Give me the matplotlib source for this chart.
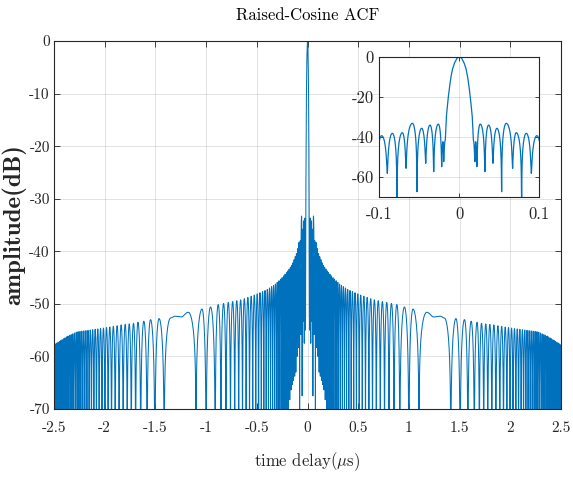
import numpy as np
import matplotlib.pyplot as plt

plt.rcParams['font.family'] = 'cmr10'
plt.rcParams['mathtext.fontset'] = 'cm'
plt.rcParams['axes.unicode_minus'] = False

# valores (retardo en us, nivel en dB), solo lado positivo: la ACF es simetrica
mainlobe_tau = [0.0, 0.003, 0.0062, 0.0085, 0.0104, 0.012, 0.0137, 0.015, 0.0162, 0.0175]
mainlobe_db = [0.0, -0.8, -3.3, -6.2, -10.0, -14.4, -20.0, -25.0, -30.0, -41.7]

# lobulos cercanos (inset): picos y nulos alternados
near_tau = [0.0175, 0.0195, 0.0205, 0.0220, 0.0262, 0.0320, 0.0366, 0.0420, 0.0470,
            0.0529, 0.0587, 0.0666, 0.0712, 0.0779, 0.0837, 0.0900, 0.0970, 0.1035]
near_db = [-41.7, -52.5, -42.5, -55.0, -33.7, -57.5, -34.2, -53.3, -35.8,
           -67.5, -33.3, -55.8, -38.0, -90.0, -38.3, -58.3, -39.5, -60.0]

# lobulos que se distinguen alrededor del lobulo ancho
mid_tau = [0.91, 0.956, 1.00, 1.04, 1.10, 1.176, 1.245, 1.31, 1.35, 1.413,
           1.464, 1.505, 1.548, 1.582, 1.614, 1.645, 1.672, 1.695, 1.716, 1.738,
           1.758, 1.778, 1.798, 1.818, 1.838, 1.858]
mid_db = [-90, -50.6, -90, -51.0, -90, -51.6, -52.5, -52.35, -52.7, -90,
          -52.8, -90, -53.0, -90, -53.3, -90, -53.5, -90, -53.7, -90,
          -53.8, -90, -53.9, -90, -54.0, -90]

# separacion entre nulos donde los lobulos estan muy juntos
spacing_tau = [0.10, 0.20, 0.30, 0.40, 0.50, 0.60, 0.70, 0.80, 0.91, 1.86, 2.0, 2.2, 2.4, 2.6]
spacing_val = [0.011, 0.013, 0.017, 0.022, 0.028, 0.034, 0.039, 0.045, 0.06, 0.040, 0.030, 0.020, 0.014, 0.011]

# envolvente de los picos
env_tau = [0.10, 0.15, 0.20, 0.25, 0.32, 0.40, 0.52, 0.65, 0.82, 0.92,
           1.86, 2.04, 2.27, 2.37, 2.45, 2.50, 2.60]
env_db = [-40.0, -42.5, -43.9, -45.0, -46.3, -47.3, -48.3, -49.2, -49.9, -50.3,
          -54.1, -54.7, -55.3, -56.2, -57.2, -57.8, -59.0]

# profundidad de los nulos cerca del centro
depth_tau = [0.10, 0.16, 0.22, 0.30]
depth_db = [-62, -66, -75, -95]

xticks = [-2.5, -2, -1.5, -1, -0.5, 0, 0.5, 1, 1.5, 2, 2.5]
xtick_labels = ['-2.5', '-2', '-1.5', '-1', '-0.5', '0', '0.5', '1', '1.5', '2', '2.5']
yticks = [-70, -60, -50, -40, -30, -20, -10, 0]
ytick_labels = ['-70', '-60', '-50', '-40', '-30', '-20', '-10', '0']
in_xticks = [-0.1, 0, 0.1]
in_xtick_labels = ['-0.1', '0', '0.1']
in_yticks = [-60, -40, -20, 0]
in_ytick_labels = ['-60', '-40', '-20', '0']


def nulos_entre(a, b):
    t = np.linspace(a, b, 4000)
    cnt = np.concatenate([[0], np.cumsum(np.diff(t) / np.interp(t[:-1], spacing_tau, spacing_val))])
    n = max(1, int(round(cnt[-1])))
    c = np.linspace(0, cnt[-1], 2 * n + 1)
    pts = np.interp(c, cnt, t)
    return pts[1:-1]  # pico, nulo, pico, ..., pico (sin los extremos)


def extremos(a, b):
    pts = nulos_entre(a, b)
    vals = []
    for i, p in enumerate(pts):
        if i % 2 == 0:
            vals.append(np.interp(p, env_tau, env_db))
        else:
            vals.append(np.interp(p, depth_tau, depth_db, right=-95))
    return list(pts), vals


def medios_lobulos(ext_t, ext_v, paso=0.0001):
    ts, vs = [], []
    for t0, t1, v0, v1 in zip(ext_t[:-1], ext_t[1:], ext_v[:-1], ext_v[1:]):
        w = t1 - t0
        n = max(int(w / paso), 6)
        t = np.linspace(t0, t1, n, endpoint=False)
        k = min(1.0, 0.045 / w)
        if v1 >= v0:
            top, low, u = v1, v0, 0.5 * (t - t0) / w
        else:
            top, low, u = v0, v1, 0.5 * (t1 - t) / w
        eps = 10 ** ((low - top) / (10 * k))
        ts.append(t)
        vs.append(top + k * 10 * np.log10(np.sin(np.pi * u) ** 2 * (1 - eps) + eps))
    ts.append([ext_t[-1]])
    vs.append([ext_v[-1]])
    return np.concatenate(ts), np.concatenate(vs)


in_t, in_v = extremos(near_tau[-1], mid_tau[0])
out_t, out_v = extremos(mid_tau[-1], 2.62)
ext_t = near_tau + in_t + mid_tau + out_t + [2.62]
ext_v = near_db + in_v + mid_db + out_v + [-95]

t_ml = np.linspace(0, mainlobe_tau[-1], 80, endpoint=False)
v_ml = np.interp(t_ml, mainlobe_tau, mainlobe_db)
t_sl, v_sl = medios_lobulos(ext_t, ext_v)
t_pos = np.concatenate([t_ml, t_sl])
v_pos = np.concatenate([v_ml, v_sl])
tau = np.concatenate([-t_pos[::-1], t_pos[1:]])
acf_db = np.concatenate([v_pos[::-1], v_pos[1:]])

azul = '#0072BD'
gris = '#262626'

fig = plt.figure(figsize=(5.73, 4.79), dpi=100)
ax = fig.add_axes([54 / 573, 1 - 409 / 479, 507 / 573, 368 / 479])
ax.plot(tau, acf_db, color=azul, lw=0.75)
ax.set_xlim(-2.5, 2.5)
ax.set_ylim(-70, 0)
ax.set_xticks(xticks)
ax.set_xticklabels(xtick_labels)
ax.set_yticks(yticks)
ax.set_yticklabels(ytick_labels)
ax.grid(True, color=gris, alpha=0.15, lw=0.6)
ax.tick_params(direction='in', top=True, right=True, length=4, width=0.6,
               color=gris, labelcolor=gris, labelsize=11)
ax.tick_params(axis='x', pad=8.5)
ax.tick_params(axis='y', pad=3)
for s in ax.spines.values():
    s.set_color(gris)
    s.set_linewidth(0.8)
ax.set_title('Raised-Cosine ACF', fontsize=12, pad=15, color='k')
ax.set_xlabel(r'time delay($\mu$s)', fontsize=12, labelpad=11, color=gris)
ax.set_ylabel('amplitude(dB)', fontsize=18, fontfamily='cmb10', labelpad=2, color=gris)

# ampliacion alrededor de cero
axin = fig.add_axes([379.3 / 573, 1 - 196.7 / 479, 160 / 573, 140 / 479])
axin.plot(tau, acf_db, color=azul, lw=0.9)
axin.set_xlim(-0.1, 0.1)
axin.set_ylim(-70, 0)
axin.set_xticks(in_xticks)
axin.set_xticklabels(in_xtick_labels)
axin.set_yticks(in_yticks)
axin.set_yticklabels(in_ytick_labels)
axin.grid(True, color=gris, alpha=0.15, lw=0.6)
axin.tick_params(direction='in', top=True, right=True, length=3, width=0.6,
                 color=gris, labelcolor=gris, labelsize=12)
axin.tick_params(axis='x', pad=7)
axin.tick_params(axis='y', pad=4)
for s in axin.spines.values():
    s.set_color(gris)
    s.set_linewidth(0.8)

fig.savefig('out.png', dpi=100)
